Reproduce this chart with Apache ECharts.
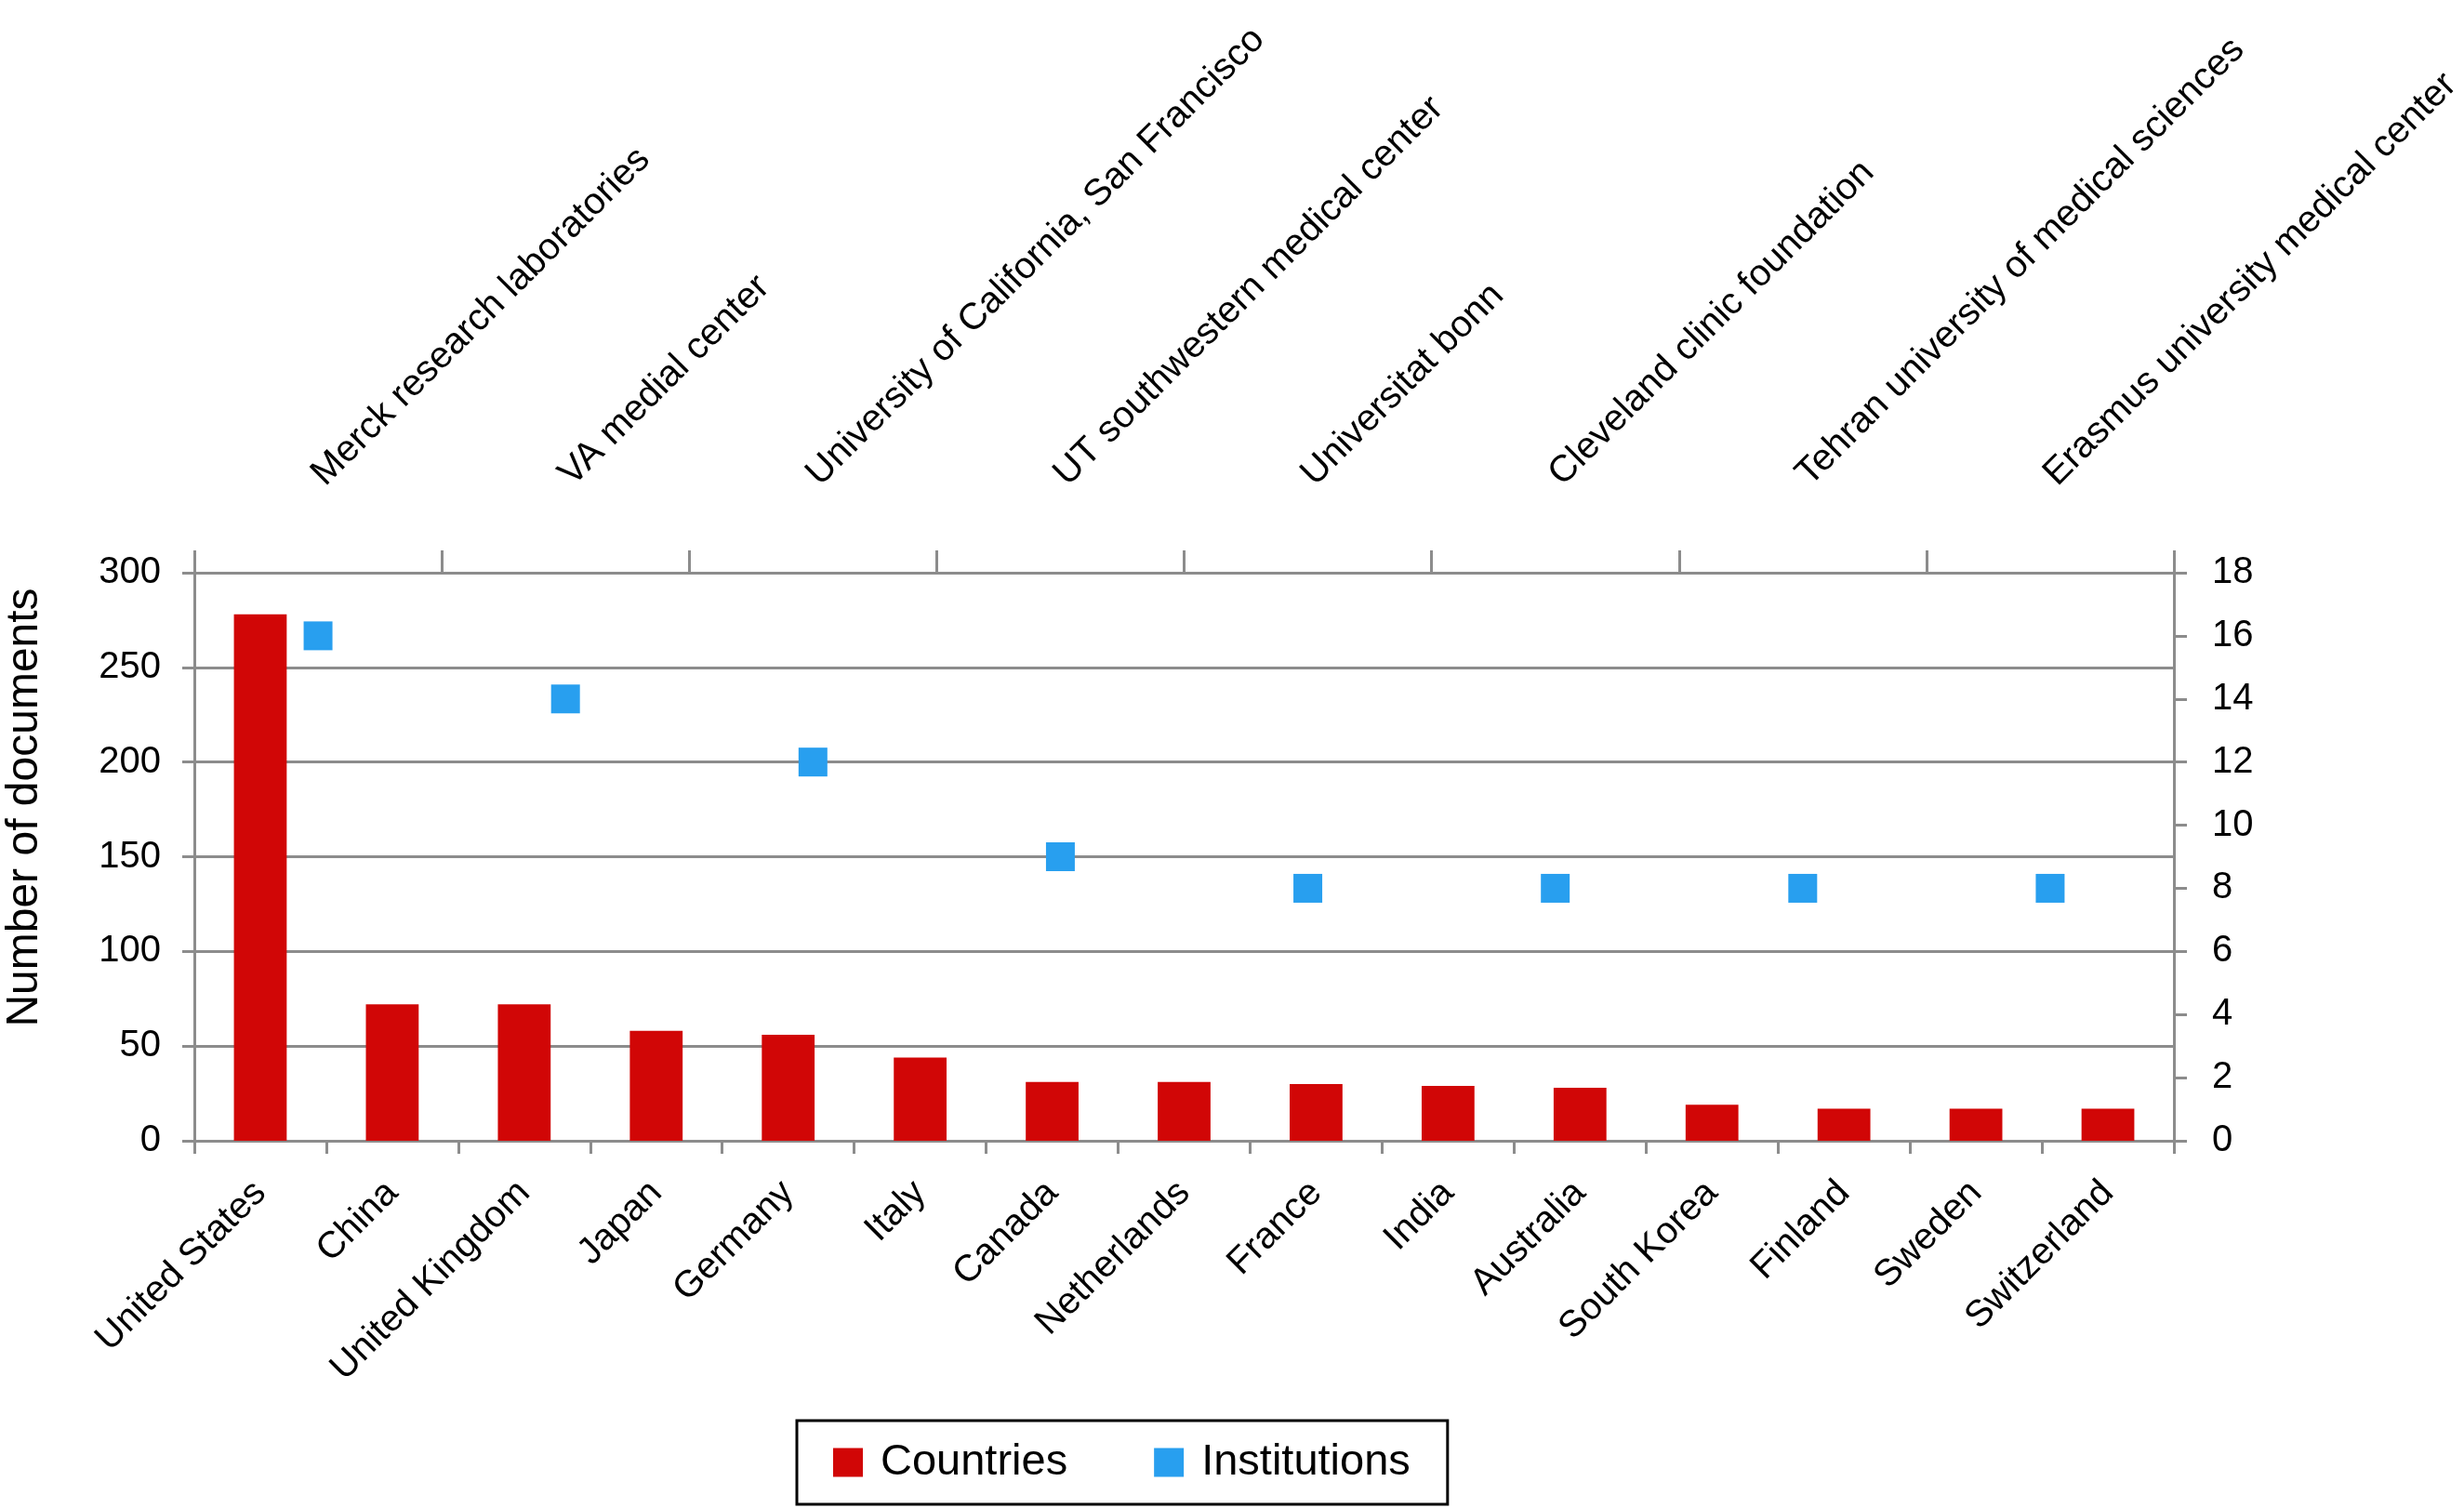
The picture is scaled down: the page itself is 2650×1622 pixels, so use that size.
<!DOCTYPE html>
<html>
<head>
<meta charset="utf-8">
<script src="https://cdn.jsdelivr.net/npm/echarts@6/dist/echarts.min.js"></script>
<style>
  html, body { margin: 0; padding: 0; background: #fff; }
  #chart { width: 2650px; height: 1622px; }
</style>
</head>
<body>
<div id="chart"></div>
<script>
// ---- Data ----
var countries = ['United States', 'China', 'United Kingdom', 'Japan', 'Germany', 'Italy', 'Canada', 'Netherlands', 'France', 'India', 'Australia', 'South Korea', 'Finland', 'Sweden', 'Switzerland'];
var countryDocs = [278, 72, 72, 58, 56, 44, 31, 31, 30, 29, 28, 19, 17, 17, 17];
var institutions = ['Merck research laboratories', 'VA medial center', 'University of California, San Francisco', 'UT southwestern medical center', 'Universitat bonn', 'Cleveland clinic foundation', 'Tehran university of medical sciences', 'Erasmus university medical center'];
var institutionDocs = [16, 14, 12, 9, 8, 8, 8, 8];
var leftTicks = { min: 0, max: 300, interval: 50 };
var rightTicks = { min: 0, max: 18, interval: 2 };

var FONT = "'Liberation Sans', Arial, Helvetica, sans-serif";
var GRAY = '#8c8c8c';
var RED = '#d10606';
var BLUE = '#289fef';

var chart = echarts.init(document.getElementById('chart'), null, { renderer: 'canvas' });
chart.setOption({
  animation: false,
  backgroundColor: '#ffffff',
  textStyle: { fontFamily: FONT, color: '#000' },
  grid: { left: 209, right: 312, top: 616, bottom: 395, containLabel: false, outerBoundsMode: 'none' },
  legend: {
    data: ['Countries', 'Institutions'],
    left: 857,
    top: 1528,
    orient: 'horizontal',
    icon: 'rect',
    itemWidth: 32,
    itemHeight: 31,
    itemGap: 93,
    padding: [21, 40, 21, 39],
    borderColor: '#000',
    borderWidth: 3,
    backgroundColor: '#fff',
    textStyle: { fontFamily: FONT, fontSize: 47, color: '#000', padding: [0, 0, 0, 14], lineHeight: 48 }
  },
  xAxis: [
    {
      type: 'category',
      position: 'bottom',
      data: countries,
      boundaryGap: true,
      axisLine: { show: true, onZero: false, lineStyle: { color: GRAY, width: 3 } },
      axisTick: { show: true, inside: false, length: 14, alignWithLabel: false, lineStyle: { color: GRAY, width: 3 } },
      axisLabel: { interval: 0, rotate: 45, margin: 50, fontSize: 40, color: '#000', fontFamily: FONT },
      splitLine: { show: false }
    },
    {
      type: 'category',
      position: 'top',
      data: institutions,
      boundaryGap: true,
      axisLine: { show: true, onZero: false, lineStyle: { color: GRAY, width: 3 } },
      axisTick: { show: true, inside: false, length: 24, alignWithLabel: false, lineStyle: { color: GRAY, width: 3 } },
      axisLabel: { interval: 0, rotate: -45, margin: 100, fontSize: 40, color: '#000', fontFamily: FONT },
      splitLine: { show: false }
    }
  ],
  yAxis: [
    {
      type: 'value',
      position: 'left',
      min: leftTicks.min, max: leftTicks.max, interval: leftTicks.interval,
      name: 'Number of documents',
      nameLocation: 'middle',
      nameGap: 158,
      nameTextStyle: { fontSize: 48, color: '#000', fontFamily: FONT, padding: [0, 0, 0, 106] },
      axisLine: { show: true, onZero: false, lineStyle: { color: GRAY, width: 3 } },
      axisTick: { show: true, length: 13, lineStyle: { color: GRAY, width: 3 } },
      axisLabel: { fontSize: 40, margin: 36, color: '#000', fontFamily: FONT },
      splitLine: { show: true, lineStyle: { color: GRAY, width: 3 } }
    },
    {
      type: 'value',
      position: 'right',
      min: rightTicks.min, max: rightTicks.max, interval: rightTicks.interval,
      axisLine: { show: true, onZero: false, lineStyle: { color: GRAY, width: 3 } },
      axisTick: { show: true, length: 14, lineStyle: { color: GRAY, width: 3 } },
      axisLabel: { fontSize: 40, margin: 41, color: '#000', fontFamily: FONT },
      splitLine: { show: false }
    }
  ],
  series: [
    {
      name: 'Countries',
      type: 'bar',
      xAxisIndex: 0,
      yAxisIndex: 0,
      data: countryDocs,
      barWidth: '40%',
      itemStyle: { color: RED },
      z: 2
    },
    {
      name: 'Institutions',
      type: 'scatter',
      xAxisIndex: 1,
      yAxisIndex: 1,
      data: institutionDocs,
      symbol: 'rect',
      symbolSize: 31,
      itemStyle: { color: BLUE, opacity: 1 },
      z: 3
    }
  ]
});
</script>
</body>
</html>
